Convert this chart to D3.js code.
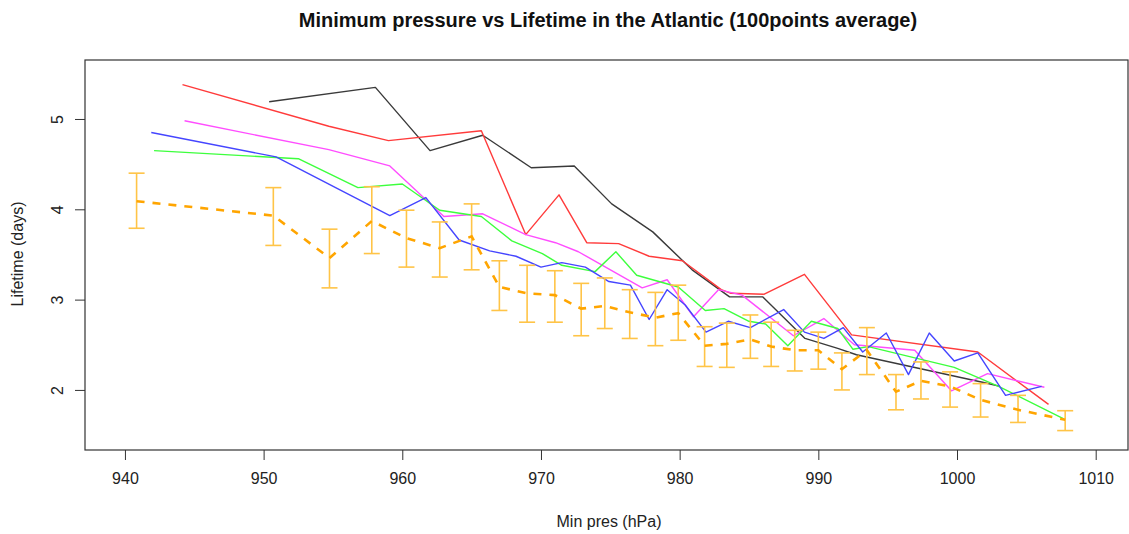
<!DOCTYPE html>
<html>
<head>
<meta charset="utf-8">
<script src="https://cdn.jsdelivr.net/npm/d3@7"></script>
<style>
  html, body { margin: 0; padding: 0; background: #fff; }
  svg { display: block; font-family: "Liberation Sans", Arial, sans-serif; }
</style>
</head>
<body>
<svg id="chart" width="1129" height="534"></svg>
<script>
// ---- data ----
const xTicks = [940, 950, 960, 970, 980, 990, 1000, 1010];
const yTicks = [2, 3, 4, 5];
const xLimits = [937.12, 1012.33];
const yLimits = [1.335, 5.653];

const redX   = [944.15, 954.7, 959.0, 965.7, 968.9, 971.3, 973.3, 975.6, 977.8, 980.2, 983.0, 983.7, 986.1, 989.0, 992.4, 1001.5, 1006.6];
const redY   = [5.38, 4.92, 4.76, 4.87, 3.72, 4.16, 3.63, 3.62, 3.48, 3.43, 3.11, 3.07, 3.06, 3.28, 2.61, 2.42, 1.84];

const blackX = [950.4, 958.06, 962.0, 965.8, 969.3, 972.4, 975.1, 978.06, 980.9, 983.6, 986.0, 989.04, 991.4, 992.75, 1002.0, 1003.1];
const blackY = [5.19, 5.35, 4.65, 4.82, 4.46, 4.48, 4.06, 3.75, 3.33, 3.03, 3.03, 2.57, 2.46, 2.39, 2.08, 2.04];

const magentaX = [944.3, 954.7, 959.1, 963.0, 965.8, 968.9, 971.05, 972.7, 977.3, 979.1, 981.0, 982.8, 984.5, 988.2, 990.4, 992.6, 996.95, 999.6, 1002.2, 1006.3];
const magentaY = [4.98, 4.66, 4.48, 3.92, 3.95, 3.72, 3.63, 3.53, 3.13, 3.22, 2.81, 3.11, 3.05, 2.60, 2.79, 2.50, 2.44, 1.99, 2.18, 2.03];

const greenX = [942.1, 952.5, 956.8, 960.0, 962.7, 965.7, 967.9, 970.1, 971.5, 973.9, 975.4, 976.9, 979.9, 981.85, 983.2, 985.0, 986.2, 987.8, 989.5, 991.4, 992.5, 993.6, 999.8, 1003.0, 1007.7];
const greenY = [4.65, 4.56, 4.24, 4.28, 3.99, 3.92, 3.65, 3.51, 3.38, 3.31, 3.53, 3.27, 3.14, 2.88, 2.90, 2.76, 2.73, 2.49, 2.76, 2.68, 2.45, 2.48, 2.25, 2.04, 1.68];

const blueX = [941.9, 950.9, 959.1, 961.7, 964.1, 966.3, 968.2, 970.0, 971.5, 973.2, 974.9, 976.45, 977.8, 979.1, 980.4, 981.9, 983.5, 985.1, 987.5, 989.0, 990.4, 991.8, 993.2, 994.9, 996.5, 998.0, 999.8, 1001.5, 1003.5, 1006.1];
const blueY = [4.85, 4.58, 3.93, 4.13, 3.66, 3.54, 3.48, 3.36, 3.41, 3.36, 3.20, 3.16, 2.78, 3.11, 2.94, 2.64, 2.76, 2.69, 2.89, 2.64, 2.57, 2.69, 2.42, 2.63, 2.17, 2.63, 2.32, 2.41, 1.94, 2.04];

const avgX  = [940.84, 950.7, 954.75, 957.8, 960.3, 962.7, 965.0, 967.0, 969.0, 971.0, 972.9, 974.6, 976.4, 978.25, 979.9, 981.8, 983.4, 985.1, 986.6, 988.3, 990.0, 991.7, 993.5, 995.6, 997.4, 999.5, 1001.7, 1004.4, 1007.8];
const avgY  = [4.09, 3.93, 3.46, 3.87, 3.68, 3.57, 3.70, 3.14, 3.07, 3.05, 2.90, 2.93, 2.86, 2.80, 2.85, 2.49, 2.51, 2.56, 2.48, 2.44, 2.44, 2.23, 2.44, 1.98, 2.10, 2.04, 1.89, 1.78, 1.67];
const avgLo = [3.79, 3.60, 3.13, 3.51, 3.36, 3.25, 3.33, 2.88, 2.75, 2.75, 2.60, 2.68, 2.57, 2.49, 2.55, 2.26, 2.25, 2.35, 2.26, 2.21, 2.23, 2.00, 2.17, 1.78, 1.90, 1.81, 1.70, 1.64, 1.55];
const avgHi = [4.40, 4.24, 3.78, 4.25, 3.99, 3.86, 4.06, 3.43, 3.38, 3.32, 3.18, 3.24, 3.11, 3.08, 3.16, 2.70, 2.74, 2.83, 2.75, 2.66, 2.64, 2.41, 2.69, 2.17, 2.31, 2.20, 2.07, 1.94, 1.77];

const titleText = "Minimum pressure vs Lifetime in the Atlantic (100points average)";
const xLabel = "Min pres (hPa)";
const yLabel = "Lifetime (days)";

// ---- layout ----
const svg = d3.select("#chart");
const box = { left: 85, top: 60, right: 1128, bottom: 450 };

const x = d3.scaleLinear().domain(xLimits).range([box.left, box.right]);
const y = d3.scaleLinear().domain(yLimits).range([box.bottom, box.top]);

const zip = (xs, ys) => xs.map((v, i) => [v, ys[i]]);
const line = d3.line().x(d => x(d[0])).y(d => y(d[1]));

const series = [
  { xs: blackX,   ys: blackY,   color: "#3a3a3a" },
  { xs: redX,     ys: redY,     color: "#ff3b3b" },
  { xs: magentaX, ys: magentaY, color: "#ff4dff" },
  { xs: greenX,   ys: greenY,   color: "#3dff3d" },
  { xs: blueX,    ys: blueY,    color: "#4545ff" }
];

const plot = svg.append("g");

series.forEach(s => {
  plot.append("path")
    .datum(zip(s.xs, s.ys))
    .attr("fill", "none")
    .attr("stroke", s.color)
    .attr("stroke-width", 1.4)
    .attr("stroke-linejoin", "round")
    .attr("d", line);
});

// error bars
const eb = plot.append("g").attr("stroke", "#ffc447").attr("stroke-width", 1.6).attr("fill", "none");
avgX.forEach((xv, i) => {
  const cx = x(xv), t = y(avgHi[i]), b = y(avgLo[i]);
  eb.append("line").attr("x1", cx).attr("x2", cx).attr("y1", t).attr("y2", b);
  eb.append("line").attr("x1", cx - 8).attr("x2", cx + 8).attr("y1", t).attr("y2", t);
  eb.append("line").attr("x1", cx - 8).attr("x2", cx + 8).attr("y1", b).attr("y2", b);
});

// dashed average line
plot.append("path")
  .datum(zip(avgX, avgY))
  .attr("fill", "none")
  .attr("stroke", "#ffa500")
  .attr("stroke-width", 2.6)
  .attr("stroke-dasharray", "8,8")
  .attr("d", line);

// ---- axes ----
const xAxis = d3.axisBottom(x).tickValues(xTicks).tickSize(10).tickPadding(13).tickFormat(d3.format("d"));
const gx = svg.append("g").attr("transform", `translate(0,${box.bottom})`).call(xAxis);
gx.select(".domain").remove();
gx.selectAll("line").attr("stroke", "#333");
gx.selectAll("text").attr("font-size", 16).attr("fill", "#222");

const yAxis = d3.axisLeft(y).tickValues(yTicks).tickSize(10).tickFormat(d3.format("d"));
const gy = svg.append("g").attr("transform", `translate(${box.left},0)`).call(yAxis);
gy.select(".domain").remove();
gy.selectAll("line").attr("stroke", "#333");
gy.selectAll("text")
  .attr("font-size", 16).attr("fill", "#222")
  .attr("text-anchor", "middle")
  .attr("dy", null)
  .attr("x", null)
  .attr("transform", "translate(-28,0) rotate(-90)")
  .attr("y", 0)
  .attr("dominant-baseline", "central");

// frame
svg.append("rect")
  .attr("x", box.left).attr("y", box.top)
  .attr("width", box.right - box.left).attr("height", box.bottom - box.top)
  .attr("fill", "none").attr("stroke", "#333").attr("stroke-width", 1.2);

// titles
svg.append("text")
  .attr("x", 608).attr("y", 27)
  .attr("text-anchor", "middle")
  .attr("font-size", 20).attr("font-weight", "bold").attr("fill", "#111")
  .text(titleText);

svg.append("text")
  .attr("x", 609).attr("y", 527)
  .attr("text-anchor", "middle")
  .attr("font-size", 16).attr("fill", "#222")
  .text(xLabel);

svg.append("text")
  .attr("transform", "translate(17,254) rotate(-90)")
  .attr("text-anchor", "middle")
  .attr("dominant-baseline", "central")
  .attr("font-size", 16).attr("fill", "#222")
  .text(yLabel);
</script>
</body>
</html>
